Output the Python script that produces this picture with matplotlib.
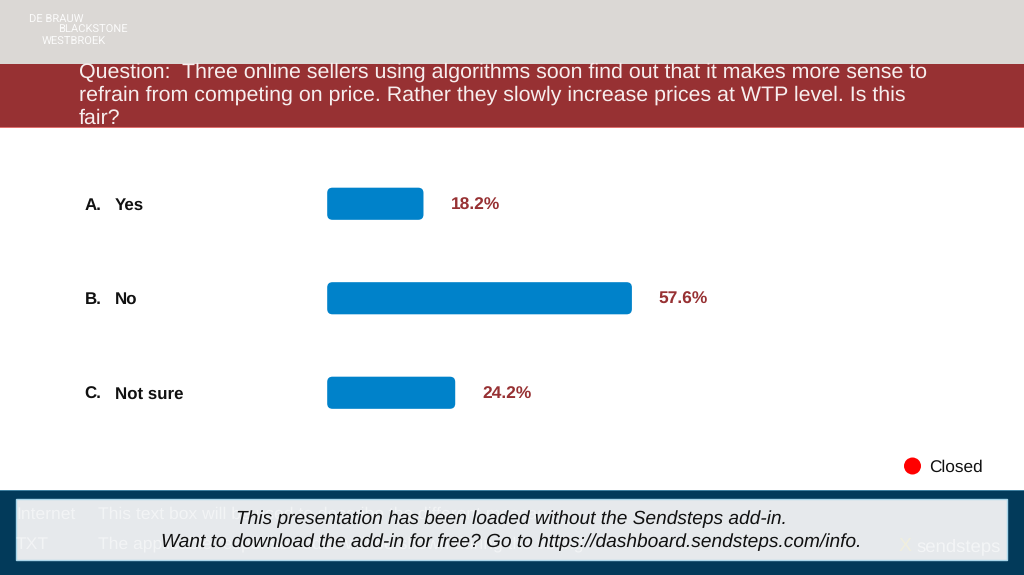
import matplotlib
matplotlib.use('Agg')
import matplotlib.pyplot as plt
from matplotlib.patches import FancyBboxPatch, Rectangle, Circle

plt.rcParams['font.family'] = ['Liberation Sans', 'DejaVu Sans']
plt.rcParams['text.hinting'] = 'no_hinting'

# Poll results
letters = ['A.', 'B.', 'C.']
answers = ['Yes', 'No', 'Not sure']
percents = [18.2, 57.6, 24.2]

question = ('Question:  Three online sellers using algorithms soon find out that it makes more sense to\n'
            'refrain from competing on price. Rather they slowly increase prices at WTP level. Is this\n'
            'fair?')
logo_lines = ['DE BRAUW', 'BLACKSTONE', 'WESTBROEK']
notice_lines = ['This presentation has been loaded without the Sendsteps add-in.',
                'Want to download the add-in for free? Go to https://dashboard.sendsteps.com/info.']

W, H = 1024, 575
RED = '#973133'
BLUE = '#0082ca'

fig = plt.figure(figsize=(W / 100, H / 100), dpi=100, facecolor='white')

# Slide furniture is laid out in pixels
bg = fig.add_axes([0, 0, 1, 1], zorder=0)
bg.set_xlim(0, W)
bg.set_ylim(H, 0)
bg.axis('off')

bg.add_patch(Rectangle((0, 0), W, 64, fc='#dbd8d5', ec='none'))
bg.add_patch(Rectangle((0, 64), W, 63, fc=RED, ec='none'))
bg.add_patch(Rectangle((0, 127), W, 1, fc='#e0706f', ec='none'))
bg.add_patch(Rectangle((0, 490), W, 85, fc='#023a5a', ec='none'))
bg.add_patch(Rectangle((0, 490), W, 1, fc='#3f7f9f', ec='none'))
bg.add_patch(Rectangle((16, 498.5), 991, 61, fc='#e6e9ec', ec='#a9d6ea', lw=1))

# Logo
for txt, x, y in zip(logo_lines, [29, 58, 42], [18.5, 30, 41.5]):
    bg.text(x, y, txt, color='white', fontsize=8, va='center', ha='left', family='Roboto', alpha=0.9)

bg.text(79, 95.5, question, color='#f7eeee', fontsize=15.4, va='center', ha='left', linespacing=1.22)

# Closed indicator
bg.add_patch(Circle((912.5, 466), 8.5, fc='#ff0000', ec='none'))
bg.text(929, 467.5, 'Closed', color='#111111', fontsize=12.4, va='center', ha='left')

# Faint text sitting behind the notice
faint = dict(color='white', fontsize=12.6, va='center', alpha=0.5)
bg.text(16, 514.5, 'Internet', **faint)
bg.text(98, 514.5, 'This text box will be used to describe the different message', **faint)
bg.text(16, 544.5, 'TXT', **faint)
bg.text(98, 544.5, 'The applicable response codes will be shown during the voting', **faint)
bg.text(916, 546.5, 'sendsteps', color='white', fontsize=13.3, va='center', alpha=0.55)
bg.text(905, 546, 'X', color='#f5f1d8', fontsize=14, va='center', ha='center', alpha=0.7)

for i, line in enumerate(notice_lines):
    bg.text(511, [519, 542][i], line, color='#111111', fontsize=13.8, style='italic', va='center', ha='center')

# Bars, 100% = 529 px wide, one row = 94.5 px
ax = fig.add_axes([327.2 / W, 1 - 440 / H, 529 / W, 283.5 / H], zorder=1)
ax.set_xlim(0, 100)
ax.set_ylim(2.5, -0.5)
ax.axis('off')
ax.patch.set_alpha(0)

bar_h = 0.34
for i, p in enumerate(percents):
    ax.add_patch(FancyBboxPatch((0, i - bar_h / 2), p, bar_h,
                                boxstyle='round,pad=0,rounding_size=1.0',
                                mutation_aspect=0.056, fc=BLUE, ec='none'))
    # baseline alignment keeps letters and answers on one line
    ax.annotate(f'{p}%', (p, i), xytext=(27, -6), textcoords='offset pixels',
                color=RED, fontsize=12.5, fontweight='bold', va='baseline', ha='left')
    ax.annotate(letters[i], (0, i), xytext=(-242.5, -6), textcoords='offset pixels',
                color='#111111', fontsize=12.2, fontweight='bold', va='baseline', ha='left', annotation_clip=False)
    ax.annotate(answers[i], (0, i), xytext=(-212, -6), textcoords='offset pixels',
                color='#111111', fontsize=12.2, fontweight='bold', va='baseline', ha='left', annotation_clip=False)

fig.savefig('out.png', dpi=100)
